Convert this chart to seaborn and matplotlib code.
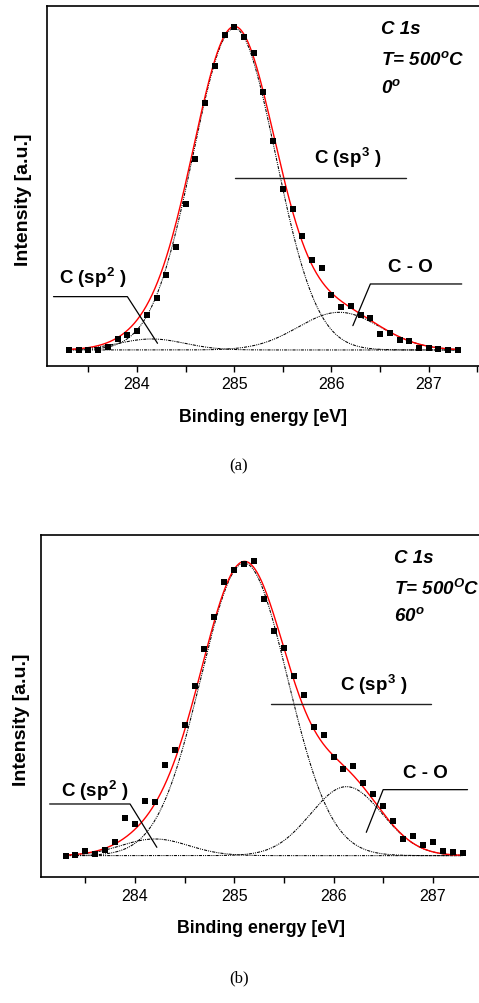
import numpy as np
import pandas as pd
import matplotlib
matplotlib.use('Agg')
import matplotlib.pyplot as plt
from matplotlib.ticker import MultipleLocator
import seaborn as sns

sns.set_style('ticks')
plt.rcParams['font.family'] = ['Liberation Sans', 'DejaVu Sans']
plt.rcParams['text.color'] = 'black'
plt.rcParams['axes.labelcolor'] = 'black'
plt.rcParams['xtick.color'] = 'black'
plt.rcParams['mathtext.fontset'] = 'custom'
plt.rcParams['mathtext.rm'] = 'Liberation Sans:bold'
plt.rcParams['mathtext.it'] = 'Liberation Sans:bold:italic'
plt.rcParams['mathtext.bf'] = 'Liberation Sans:bold'

# Energia de enlace (eV), paso de 0.1 eV
energy = [283.3, 283.4, 283.5, 283.6, 283.7, 283.8, 283.9, 284.0, 284.1, 284.2,
          284.3, 284.4, 284.5, 284.6, 284.7, 284.8, 284.9, 285.0, 285.1, 285.2,
          285.3, 285.4, 285.5, 285.6, 285.7, 285.8, 285.9, 286.0, 286.1, 286.2,
          286.3, 286.4, 286.5, 286.6, 286.7, 286.8, 286.9, 287.0, 287.1, 287.2,
          287.3]

# (a) 0 grados
int_a = [0.0, 0.0, 0.1, 0.1, 0.8, 3.3, 4.4, 5.7, 10.6, 15.6,
         22.5, 30.8, 43.8, 57.3, 74.0, 85.1, 94.6, 96.8, 94.0, 89.1,
         77.3, 62.6, 48.3, 42.3, 34.3, 27.1, 24.6, 16.6, 12.8, 13.3,
         10.5, 9.5, 4.8, 5.0, 3.1, 2.6, 0.5, 0.7, 0.3, 0.1,
         0.0]

# (b) 60 grados
int_b = [0.0, 0.2, 1.4, 0.5, 1.7, 4.0, 11.2, 9.4, 16.3, 16.2,
         27.1, 31.7, 39.1, 51.0, 61.9, 71.5, 82.0, 85.7, 87.5, 88.3,
         76.9, 67.4, 62.2, 53.8, 48.1, 38.6, 36.2, 29.7, 25.9, 27.0,
         21.8, 18.6, 14.8, 10.3, 5.1, 5.8, 3.1, 4.1, 1.4, 1.2,
         0.7]

# Componentes del ajuste: sp2, sp3, C-O
center_a = [284.15, 285.0, 286.08]
height_a = [3.3, 96.5, 11.3]
fwhm_a = [0.8, 1.0, 1.0]

center_b = [284.2, 285.1, 286.13]
height_b = [5.0, 87.8, 20.7]
fwhm_b = [0.8, 1.03, 0.85]

info_a = ['C 1s', 'T= 500$^{o}$C', '0$^{o}$']
info_b = ['C 1s', 'T= 500$^{O}$C', '60$^{o}$']


def gauss(x, c, h, w):
    s = w / 2.3548
    return h * np.exp(-(x - c) ** 2 / (2 * s ** 2))


fig = plt.figure(figsize=(4.79, 10.04), dpi=100)
ax_a = fig.add_axes([0.0975, 0.6345, 0.905, 0.3585])
ax_b = fig.add_axes([0.085, 0.1252, 0.918, 0.3412])

panels = [
    (ax_a, int_a, center_a, height_a, fwhm_a, (283.07, 287.53), (-4.8, 103.2)),
    (ax_b, int_b, center_b, height_b, fwhm_b, (283.05, 287.48), (-6.5, 96.3)),
]

xfit = np.linspace(283.3, 287.3, 400)
for ax, yint, cen, hgt, fw, xl, yl in panels:
    total = np.zeros_like(xfit)
    for c, h, w in zip(cen, hgt, fw):
        comp = gauss(xfit, c, h, w)
        total += comp
        ax.plot(xfit, comp, color='black', lw=0.75, ls=(0, (3, 1, 1, 1, 1, 1)))
    sns.lineplot(x=xfit, y=total, color='red', lw=1.0, ax=ax)
    df = pd.DataFrame({'energy': energy, 'intensity': yint})
    sns.scatterplot(data=df, x='energy', y='intensity', marker='s', s=14,
                    color='black', edgecolor='black', linewidth=0, ax=ax, zorder=3)
    ax.set_xlim(*xl)
    ax.set_ylim(*yl)
    ax.set_yticks([])
    ax.xaxis.set_major_locator(MultipleLocator(1))
    ax.xaxis.set_minor_locator(MultipleLocator(0.5))
    ax.tick_params(axis='x', which='both', direction='out', length=4, width=1,
                   labelsize=11.5, colors='black')
    for sp in ['left', 'bottom', 'top']:
        ax.spines[sp].set_linewidth(1.2)
        ax.spines[sp].set_color('black')
    ax.spines['right'].set_visible(False)
    ax.set_xlabel('Binding energy [eV]', fontsize=12.8, fontweight='bold')
    ax.set_ylabel('Intensity [a.u.]', fontsize=14, fontweight='bold')

ax_a.xaxis.set_label_coords(0.5, -0.117)
ax_a.yaxis.set_label_coords(-0.034, 0.464)
ax_b.xaxis.set_label_coords(0.5, -0.122)
ax_b.yaxis.set_label_coords(-0.024, 0.462)

info = dict(fontsize=13.5, fontweight='bold', fontstyle='italic', va='center',
            transform=fig.transFigure)
for t, yp in zip(info_a, [30, 60, 88]):
    fig.text(381 / 479, 1 - yp / 1004, t, **info)
for t, yp in zip(info_b, [559, 589, 616]):
    fig.text(394 / 479, 1 - yp / 1004, t, **info)

lab = dict(fontsize=13.5, fontweight='bold', ha='center', va='center',
           transform=fig.transFigure)

# (a) anotaciones
fig.text(348 / 479, 1 - 158 / 1004, 'C (sp$^{3}$ )', **lab)
ax_a.plot([285.01, 286.77], [51.6, 51.6], color='#222222', lw=1.0)
fig.text(410 / 479, 1 - 267 / 1004, 'C - O', **lab)
ax_a.plot([286.22, 286.40, 287.34], [7.3, 19.8, 19.8], color='black', lw=0.9)
fig.text(93 / 479, 1 - 278 / 1004, 'C (sp$^{2}$ )', **lab)
ax_a.plot([283.14, 283.90, 284.21], [16.0, 16.0, 2.0], color='black', lw=0.9)

# (b) anotaciones
fig.text(374 / 479, 1 - 685 / 1004, 'C (sp$^{3}$ )', **lab)
ax_b.plot([285.37, 286.98], [45.5, 45.5], color='#222222', lw=1.0)
fig.text(425 / 479, 1 - 774 / 1004, 'C - O', **lab)
ax_b.plot([286.33, 286.50, 287.35], [7.0, 19.8, 19.8], color='black', lw=0.9)
fig.text(95 / 479, 1 - 791 / 1004, 'C (sp$^{2}$ )', **lab)
ax_b.plot([283.14, 283.95, 284.22], [15.5, 15.5, 2.5], color='black', lw=0.9)

fig.text(239 / 479, 1 - 466 / 1004, '(a)', fontsize=12, family='Liberation Serif',
         ha='center', va='center')
fig.text(239 / 479, 1 - 978 / 1004, '(b)', fontsize=12, family='Liberation Serif',
         ha='center', va='center')

fig.savefig('out.png', dpi=100)
